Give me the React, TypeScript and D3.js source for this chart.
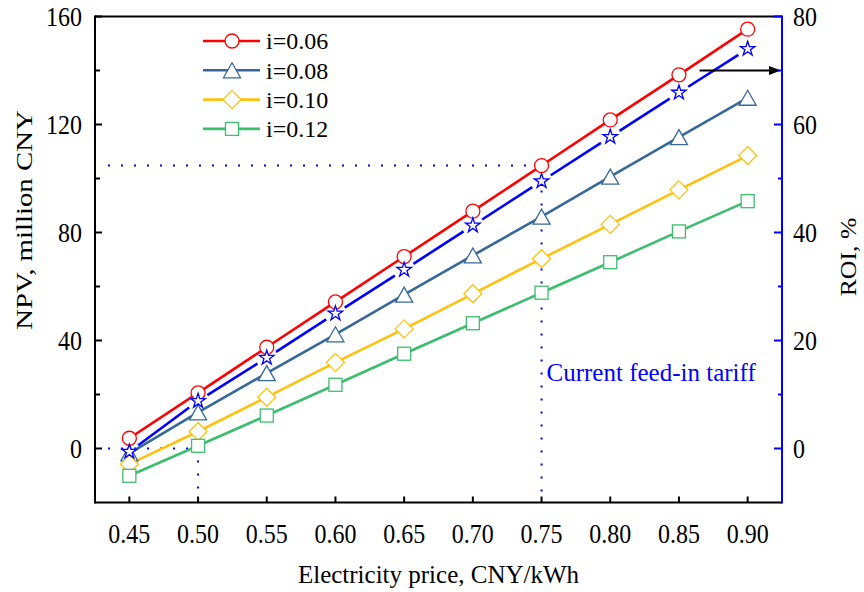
import React from "react";
import * as d3 from "d3";

// Electricity price (CNY/kWh)
const prices = [0.45, 0.5, 0.55, 0.6, 0.65, 0.7, 0.75, 0.8, 0.85, 0.9];
const priceTicks = [0.45, 0.5, 0.55, 0.6, 0.65, 0.7, 0.75, 0.8, 0.85, 0.9];

// NPV (million CNY) for each discount rate
const npv006 = [3.8, 20.6, 37.5, 54.3, 71.1, 87.9, 104.8, 121.7, 138.4, 155.3];
const npv008 = [-1.8, 13.4, 27.9, 42.3, 57.0, 71.5, 85.9, 100.7, 115.3, 129.9];
const npv010 = [-5.8, 6.3, 19.0, 31.9, 44.3, 57.3, 70.3, 83.0, 95.8, 108.5];
const npv012 = [-10.1, 1.0, 12.2, 23.6, 35.1, 46.4, 57.7, 69.0, 80.4, 91.6];

// Return on investment (%)
const roiValues = [-0.6, 8.8, 16.8, 25.0, 33.1, 41.3, 49.5, 57.7, 65.9, 74.0];

const seriesLabels = ["i=0.06", "i=0.08", "i=0.10", "i=0.12"];
const npvMajorTicks = [0, 40, 80, 120, 160];
const npvMinorTicks = [20, 60, 100, 140];
const roiMajorTicks = [0, 20, 40, 60, 80];
const roiMinorTicks = [10, 30, 50, 70];

// Reference lines: current tariff and break-even price
const currentTariff = 0.75;
const breakEvenPrice = 0.5;
const arrowStartPrice = 0.865;
const arrowRoi = 70;

const W = 864;
const H = 592;
const X0 = 95;
const X1 = 782;
const Y0 = 16.5;
const Y1 = 502.5;
const FONT = "'Liberation Serif', 'Times New Roman', serif";
const TICK_STRETCH = 1.1;

const x = d3.scaleLinear().domain([0.425, 0.925]).range([X0, X1]);
const yL = d3.scaleLinear().domain([-20, 160]).range([Y1, Y0]);
const yR = d3.scaleLinear().domain([-10, 80]).range([Y1, Y0]);

type Shape = "circle" | "triangle" | "diamond" | "square" | "star";

function Marker({ shape, cx, cy, color }: { shape: Shape; cx: number; cy: number; color: string }) {
  const common = { fill: "#fff", stroke: color, strokeWidth: 1.3 };
  if (shape === "circle") return <circle cx={cx} cy={cy} r={7} {...common} />;
  if (shape === "square") return <rect x={cx - 6.5} y={cy - 6.5} width={13} height={13} {...common} />;
  if (shape === "diamond")
    return <path d={`M${cx},${cy - 9}L${cx + 9},${cy}L${cx},${cy + 9}L${cx - 9},${cy}Z`} {...common} />;
  if (shape === "triangle")
    return <path d={`M${cx},${cy - 7.5}L${cx + 8.5},${cy + 7.5}L${cx - 8.5},${cy + 7.5}Z`} {...common} />;
  const star = d3.symbol(d3.symbolStar, 66)();
  return <path d={star || ""} transform={`translate(${cx},${cy})`} {...common} />;
}

// Tick label with slightly tall glyphs
function TickLabel({ x: tx, y: ty, anchor, children }: { x: number; y: number; anchor: string; children: React.ReactNode }) {
  return (
    <text transform={`translate(${tx},${ty}) scale(1,${TICK_STRETCH})`} textAnchor={anchor} fontSize={24}>
      {children}
    </text>
  );
}

const npvSeries = [
  { label: seriesLabels[0], values: npv006, color: "#FF0000", shape: "circle" as Shape },
  { label: seriesLabels[1], values: npv008, color: "#36689A", shape: "triangle" as Shape },
  { label: seriesLabels[2], values: npv010, color: "#FFC10E", shape: "diamond" as Shape },
  { label: seriesLabels[3], values: npv012, color: "#3DBE6E", shape: "square" as Shape },
];

export default function App() {
  const line = d3
    .line<number>()
    .x((_, i) => x(prices[i]))
    .y((d) => d);

  // ROI line drawn as segments that stop short of each star
  const roiPts = prices.map((p, i) => [x(p), yR(roiValues[i])] as [number, number]);
  const gap = 11;
  const roiSegments = roiPts.slice(1).map((b, i) => {
    const a = roiPts[i];
    const dx = b[0] - a[0];
    const dy = b[1] - a[1];
    const len = Math.hypot(dx, dy);
    const ux = dx / len;
    const uy = dy / len;
    return [a[0] + ux * gap, a[1] + uy * gap, b[0] - ux * gap, b[1] - uy * gap];
  });

  const tariffNpv = npv006[prices.indexOf(currentTariff)];
  const dotted = { stroke: "#0000FF", strokeWidth: 2, strokeDasharray: "2 11", fill: "none" };

  return (
    <svg
      width={W}
      height={H}
      style={{ position: "absolute", left: 0, top: 0, display: "block", background: "#fff" }}
      fontFamily={FONT}
    >
      {/* reference dotted lines */}
      <line x1={X0 + 13} x2={x(currentTariff)} y1={yL(tariffNpv)} y2={yL(tariffNpv)} {...dotted} />
      <line x1={x(currentTariff)} x2={x(currentTariff)} y1={yL(tariffNpv) + 12} y2={Y1} {...dotted} />
      <line x1={X0 + 13} x2={x(breakEvenPrice)} y1={yL(0)} y2={yL(0)} {...dotted} />
      <line x1={x(breakEvenPrice)} x2={x(breakEvenPrice)} y1={yL(0) + 12} y2={Y1} {...dotted} />

      {/* NPV series */}
      {npvSeries.map((s) => (
        <path key={s.label} d={line(s.values.map((v) => yL(v))) || ""} stroke={s.color} strokeWidth={2.6} fill="none" />
      ))}
      {roiSegments.map((s, i) => (
        <line key={i} x1={s[0]} y1={s[1]} x2={s[2]} y2={s[3]} stroke="#0000FF" strokeWidth={2.6} />
      ))}
      {npvSeries.map((s) =>
        s.values.map((v, i) => (
          <Marker key={s.label + i} shape={s.shape} cx={x(prices[i])} cy={yL(v)} color={s.color} />
        ))
      )}
      {roiValues.map((v, i) => (
        <Marker key={"roi" + i} shape="star" cx={x(prices[i])} cy={yR(v)} color="#0000FF" />
      ))}

      {/* arrow toward ROI axis */}
      <line x1={x(arrowStartPrice)} x2={X1 - 10} y1={yR(arrowRoi)} y2={yR(arrowRoi)} stroke="#000" strokeWidth={2} />
      <path d={`M${X1 - 1},${yR(arrowRoi)}L${X1 - 13},${yR(arrowRoi) - 4.5}L${X1 - 13},${yR(arrowRoi) + 4.5}Z`} fill="#000" />

      <text x={x(currentTariff) + 5} y={381} fontSize={25} fill="#0000FF">
        Current feed-in tariff
      </text>

      {/* axes frame */}
      <line x1={X0} x2={X1} y1={Y0} y2={Y0} stroke="#000" strokeWidth={2} />
      <line x1={X0} x2={X1} y1={Y1} y2={Y1} stroke="#000" strokeWidth={2} />
      <line x1={X0} x2={X0} y1={Y0 - 1} y2={Y1 + 1} stroke="#000" strokeWidth={2} />
      <line x1={X1} x2={X1} y1={Y0 - 1} y2={Y1 + 1} stroke="#0000FF" strokeWidth={2} />

      {/* left axis */}
      {npvMajorTicks.map((t) => (
        <g key={"l" + t}>
          <line x1={X0} x2={X0 + 7} y1={yL(t)} y2={yL(t)} stroke="#000" strokeWidth={2} />
          <TickLabel x={82} y={yL(t) + 9} anchor="end">
            {t}
          </TickLabel>
        </g>
      ))}
      {npvMinorTicks.map((t) => (
        <line key={"lm" + t} x1={X0} x2={X0 + 5} y1={yL(t)} y2={yL(t)} stroke="#000" strokeWidth={2} />
      ))}

      {/* right axis */}
      {roiMajorTicks.map((t) => (
        <g key={"r" + t}>
          <line x1={X1} x2={X1 - 8} y1={yR(t)} y2={yR(t)} stroke="#0000FF" strokeWidth={2} />
          <TickLabel x={793} y={yR(t) + 9} anchor="start">
            {t}
          </TickLabel>
        </g>
      ))}
      {roiMinorTicks.map((t) => (
        <line key={"rm" + t} x1={X1} x2={X1 - 4} y1={yR(t)} y2={yR(t)} stroke="#0000FF" strokeWidth={2} />
      ))}

      {/* bottom axis */}
      {priceTicks.map((t) => (
        <g key={"b" + t}>
          <line x1={x(t)} x2={x(t)} y1={Y1} y2={Y1 - 6} stroke="#000" strokeWidth={2} />
          <TickLabel x={x(t)} y={543} anchor="middle">
            {t.toFixed(2)}
          </TickLabel>
        </g>
      ))}

      {/* axis titles */}
      <text x={(X0 + X1) / 2} y={583} textAnchor="middle" fontSize={25}>
        Electricity price, CNY/kWh
      </text>
      <text transform={`translate(32,220) rotate(-90) scale(1.2,1)`} textAnchor="middle" fontSize={24}>
        NPV, million CNY
      </text>
      <text transform={`translate(856,257) rotate(-90) scale(1.12,1)`} textAnchor="middle" fontSize={23}>
        ROI, %
      </text>

      {/* legend */}
      {npvSeries.map((s, i) => {
        const ly = 41 + i * 29.3;
        return (
          <g key={"lg" + s.label}>
            <line x1={203} x2={260} y1={ly} y2={ly} stroke={s.color} strokeWidth={2.6} />
            <Marker shape={s.shape} cx={232} cy={ly} color={s.color} />
            <text x={266} y={ly} dy="0.35em" fontSize={24}>
              {s.label}
            </text>
          </g>
        );
      })}
    </svg>
  );
}
